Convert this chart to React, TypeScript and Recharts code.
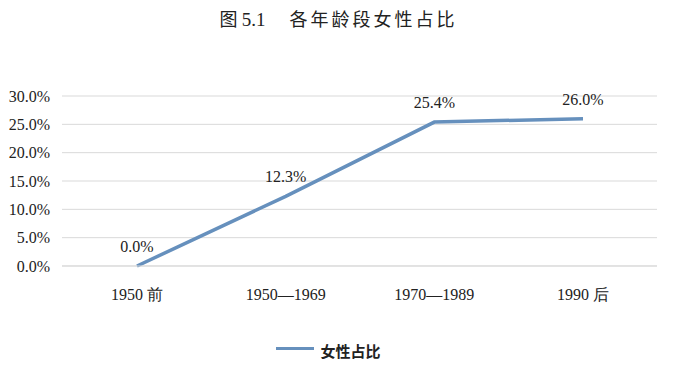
import { CartesianGrid, LabelList, Legend, Line, LineChart, XAxis, YAxis } from "recharts";

const ageGroups = ["1950 前", "1950—1969", "1970—1989", "1990 后"];
const femaleShare = [0.0, 12.3, 25.4, 26.0];
const yTicks = [0, 5, 10, 15, 20, 25, 30];

const data = ageGroups.map((group, i) => ({ group, share: femaleShare[i] }));

const LINE_COLOR = "#6690bd";
const serif = '"Liberation Serif", "Times New Roman", serif';
const cjk = '"Noto Sans CJK SC", sans-serif';

const pct = (v: number) => `${Number(v).toFixed(1)}%`;

function LegendContent() {
  return (
    <div style={{ display: "flex", justifyContent: "center", alignItems: "center", height: 20 }}>
      <span style={{ display: "inline-block", width: 38, height: 3, background: LINE_COLOR, marginRight: 6, marginTop: -4 }} />
      <span style={{ fontFamily: cjk, fontWeight: 700, fontSize: 15, color: "#222" }}>女性占比</span>
    </div>
  );
}

export default function App() {
  return (
    <div style={{ position: "absolute", left: 0, top: 0, width: 677, height: 367, background: "#fff" }}>
      <div
        style={{
          position: "absolute",
          top: 5,
          left: 0,
          width: 677,
          textAlign: "center",
          fontSize: 18,
          color: "#222",
          whiteSpace: "pre",
        }}
      >
        <span style={{ fontFamily: cjk }}>图 </span>
        <span style={{ fontFamily: serif, fontSize: 19 }}>5.1</span>
        <span style={{ fontFamily: cjk, letterSpacing: 3, marginLeft: 24 }}>各年龄段女性占比</span>
      </div>
      <LineChart width={677} height={367} data={data} margin={{ top: 96, right: 20, bottom: 7, left: 0 }}>
        <CartesianGrid stroke="#d9d9d9" vertical={false} />
        <XAxis
          dataKey="group"
          height={74}
          padding={{ left: 75, right: 74 }}
          axisLine={{ stroke: "#d9d9d9" }}
          tickLine={false}
          tickSize={6}
          tickMargin={17}
          tick={{ fill: "#222", fontSize: 16, fontFamily: serif }}
        />
        <YAxis
          width={62}
          domain={[0, 30]}
          ticks={yTicks}
          tickFormatter={pct}
          axisLine={false}
          tickLine={false}
          tickSize={6}
          tickMargin={6}
          tick={{ fill: "#222", fontSize: 16, fontFamily: serif }}
        />
        <Legend verticalAlign="bottom" content={<LegendContent />} />
        <Line
          dataKey="share"
          stroke={LINE_COLOR}
          strokeWidth={3.5}
          dot={false}
          activeDot={false}
          isAnimationActive={false}
        >
          <LabelList
            dataKey="share"
            position="top"
            offset={14}
            formatter={(v: number) => pct(v)}
            style={{ fill: "#222", fontSize: 16, fontFamily: serif }}
          />
        </Line>
      </LineChart>
    </div>
  );
}
